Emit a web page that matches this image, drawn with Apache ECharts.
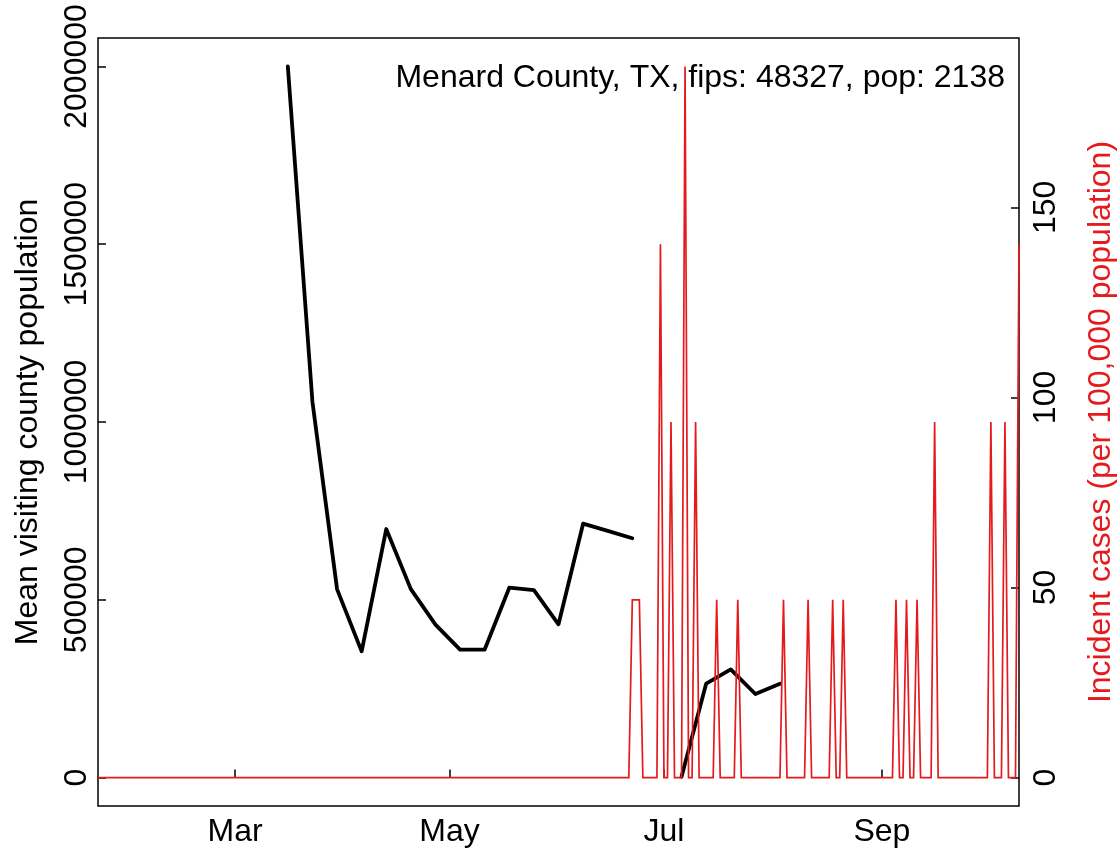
<!DOCTYPE html>
<html>
<head>
<meta charset="utf-8">
<script src="https://cdn.jsdelivr.net/npm/echarts@6/dist/echarts.min.js"></script>
<style>
  html, body { margin: 0; padding: 0; background: #fff; }
  #chart { width: 1119px; height: 852px; }
</style>
</head>
<body>
<div id="chart"></div>
<script>
// ---- data ----
const startDate = '2020-01-22';
const endDate = '2020-10-10';
const xTickDates = ['2020-03-01', '2020-05-01', '2020-07-01', '2020-09-01'];
const xTickLabels = ['Mar', 'May', 'Jul', 'Sep'];
const leftTicks = [0, 500000, 1000000, 1500000, 2000000];
const rightTicks = [0, 50, 100, 150];

// weekly mean visiting county population (null = missing week)
const visitDates = ['2020-03-16', '2020-03-23', '2020-03-30', '2020-04-06', '2020-04-13',
  '2020-04-20', '2020-04-27', '2020-05-04', '2020-05-11', '2020-05-18', '2020-05-25',
  '2020-06-01', '2020-06-08', '2020-06-15', '2020-06-22', '2020-06-29', '2020-07-06',
  '2020-07-13', '2020-07-20', '2020-07-27', '2020-08-03'];
const visitValues = [2000000, 1057000, 530000, 355000, 699000,
  530000, 430000, 360000, 360000, 534000, 527000,
  431000, 714000, 694000, 673000, null, 2000,
  264000, 304000, 235000, 264000];

// daily incident cases per 100,000 population (days not listed are 0)
const caseDates = ['2020-06-22', '2020-06-23', '2020-06-24', '2020-06-30', '2020-07-03',
  '2020-07-07', '2020-07-10', '2020-07-16', '2020-07-22', '2020-08-04', '2020-08-11',
  '2020-08-18', '2020-08-21', '2020-09-05', '2020-09-08', '2020-09-11', '2020-09-16',
  '2020-10-02', '2020-10-06', '2020-10-10'];
const caseValues = [46.77, 46.77, 46.77, 140.32, 93.55,
  187.09, 93.55, 46.77, 46.77, 46.77, 46.77,
  46.77, 46.77, 46.77, 46.77, 46.77, 93.55,
  93.55, 93.55, 140.32];

const titleText = 'Menard County, TX, fips: 48327, pop: 2138';
const leftName = 'Mean visiting county population';
const rightName = 'Incident cases (per 100,000 population)';

// ---- helpers ----
function ts(s) { const p = s.split('-').map(Number); return Date.UTC(p[0], p[1] - 1, p[2]); }
const DAY = 86400000;
const caseMap = {};
caseDates.forEach((d, i) => { caseMap[ts(d)] = caseValues[i]; });
const redData = [];
for (let t = ts(startDate); t <= ts(endDate); t += DAY) {
  redData.push([t, caseMap[t] !== undefined ? caseMap[t] : 0]);
}
const blackData = visitDates.map((d, i) => [ts(d), visitValues[i] === null ? '-' : visitValues[i]]);
const xTickTs = xTickDates.map(ts);

const FONT = '"Liberation Sans", Arial, Helvetica, sans-serif';
const RED = '#E41A1C';

const chart = echarts.init(document.getElementById('chart'), null, { renderer: 'canvas' });
chart.setOption({
  animation: false,
  backgroundColor: '#fff',
  grid: { left: 98, right: 100, top: 38, bottom: 46, show: true, borderColor: '#000', borderWidth: 1.5,
    backgroundColor: 'transparent', containLabel: false, outerBoundsMode: 'none' },
  graphic: [{
    type: 'text', z: 0,
    style: { text: titleText, x: 1005, y: 78.5, align: 'right', verticalAlign: 'middle',
      textAlign: 'right', textVerticalAlign: 'middle', fontSize: 32, fontFamily: FONT, fill: '#000' }
  }],
  xAxis: {
    type: 'value', min: ts(startDate), max: ts(endDate),
    axisLine: { show: false }, splitLine: { show: false },
    axisTick: { show: true, inside: true, length: 8, lineStyle: { color: '#000', width: 1.5 }, customValues: xTickTs },
    axisLabel: { customValues: xTickTs, formatter: v => xTickLabels[xTickTs.indexOf(v)] || '',
      fontSize: 32, fontFamily: FONT, color: '#000', margin: 10 }
  },
  yAxis: [{
    type: 'value', position: 'left', min: -80000, max: 2080000,
    axisLine: { show: false }, splitLine: { show: false },
    axisTick: { show: true, inside: true, length: 8, lineStyle: { color: '#000', width: 1.5 }, customValues: leftTicks },
    axisLabel: { customValues: leftTicks, rotate: 90, formatter: v => String(v),
      fontSize: 32, fontFamily: FONT, color: '#000', margin: 5 },
    name: leftName, nameLocation: 'middle', nameGap: 54, nameRotate: 90,
    nameTextStyle: { fontSize: 32, fontFamily: FONT, color: '#000' }
  }, {
    type: 'value', position: 'right', min: -7.484, max: 194.575,
    axisLine: { show: false }, splitLine: { show: false },
    axisTick: { show: true, inside: true, length: 8, lineStyle: { color: '#000', width: 1.5 }, customValues: rightTicks },
    axisLabel: { customValues: rightTicks, rotate: 90, formatter: v => String(v),
      fontSize: 32, fontFamily: FONT, color: '#000', margin: 11 },
    name: rightName, nameLocation: 'middle', nameGap: 66, nameRotate: 90,
    nameTextStyle: { fontSize: 32, fontFamily: FONT, color: RED }
  }],
  series: [{
    type: 'line', yAxisIndex: 0, data: blackData, showSymbol: false, connectNulls: false,
    lineStyle: { color: '#000', width: 3.8, join: 'round', cap: 'round' }, z: 3
  }, {
    type: 'line', yAxisIndex: 1, data: redData, showSymbol: false,
    lineStyle: { color: RED, width: 1.7, join: 'miter' }, z: 4
  }]
});
</script>
</body>
</html>
